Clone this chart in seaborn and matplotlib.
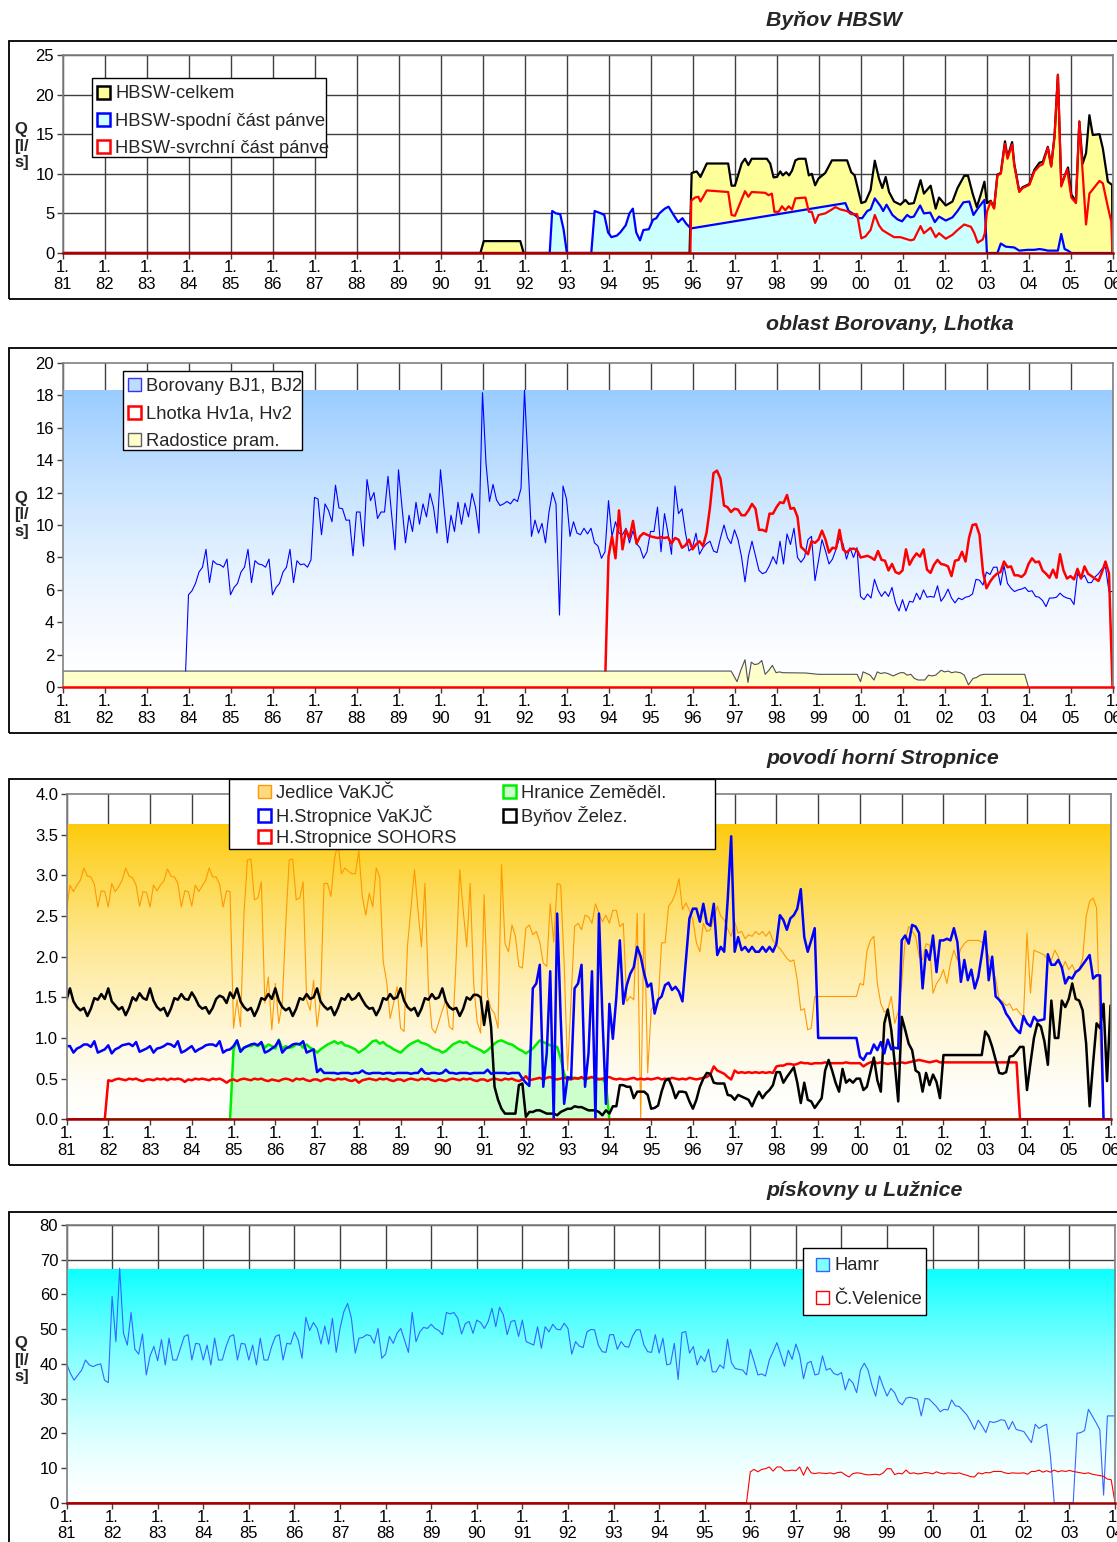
"""
Vydatnost zdrojů (Q v l/s) – čtyři panely: Byňov HBSW, oblast Borovany/Lhotka,
povodí horní Stropnice a pískovny u Lužnice.
"""

from pathlib import Path

import matplotlib

matplotlib.use("Agg")

import matplotlib.colors as mcolors
import matplotlib.pyplot as plt
import numpy as np
import seaborn as sns
from matplotlib.patches import Patch, Rectangle

W, H = 1117, 1542

# ---------------------------------------------------------------- Byňov HBSW
# (rok, Q) – nepravidelné body
HBSW_CELKEM = [
    (1981.0, 0), (1990.95, 0), (1991.03, 1.5), (1991.9, 1.5), (1991.98, 0), (1995.93, 0), (1995.98, 10.1),
    (1996.10, 10.3), (1996.19, 9.6), (1996.34, 11.3), (1996.85, 11.3), (1996.93, 8.5), (1997.01, 8.5),
    (1997.17, 11.3), (1997.25, 11.9), (1997.33, 11.1), (1997.41, 11.9), (1997.77, 11.9), (1997.85, 11.3),
    (1997.93, 9.55), (1998.01, 9.6), (1998.09, 10.3), (1998.15, 9.8), (1998.23, 10.2), (1998.30, 9.8),
    (1998.37, 10.4), (1998.45, 11.7), (1998.53, 11.9), (1998.69, 11.9), (1998.77, 9.8), (1998.84, 10.0),
    (1998.92, 8.55), (1999.00, 9.4), (1999.16, 10.1), (1999.32, 11.7), (1999.68, 11.7), (1999.78, 10.2),
    (1999.86, 9.8), (2000.02, 6.3), (2000.12, 6.5), (2000.24, 7.95), (2000.34, 11.65), (2000.44, 9.4),
    (2000.52, 8.2), (2000.60, 9.6), (2000.68, 7.7), (2000.80, 6.5), (2000.95, 6.1), (2001.07, 6.7),
    (2001.15, 6.2), (2001.27, 6.3), (2001.43, 9.2), (2001.51, 7.5), (2001.67, 8.5), (2001.79, 5.6),
    (2001.87, 7.0), (2002.03, 6.0), (2002.19, 6.5), (2002.31, 8.2), (2002.47, 9.75), (2002.56, 9.75),
    (2002.67, 7.5), (2002.77, 5.8), (2002.87, 7.5), (2002.95, 9.0), (2003.01, 6.3), (2003.10, 6.6),
    (2003.18, 5.7), (2003.26, 9.9), (2003.34, 10.1), (2003.44, 14.1), (2003.50, 12.1), (2003.61, 14.0),
    (2003.66, 11.3), (2003.78, 7.8), (2003.86, 8.3), (2004.02, 8.7), (2004.14, 10.5), (2004.26, 11.4),
    (2004.34, 11.5), (2004.46, 13.4), (2004.54, 11.0), (2004.62, 14.8), (2004.70, 22.5), (2004.78, 8.6),
    (2004.94, 10.8), (2005.02, 7.4), (2005.13, 6.5), (2005.21, 16.6), (2005.29, 11.3), (2005.37, 12.6),
    (2005.45, 17.4), (2005.53, 14.9), (2005.69, 15.0), (2005.77, 13.2), (2005.89, 9.0), (2005.99, 8.6),
    (2006.0, 0),
]
HBSW_SPODNI = [
    (1981.0, 0), (1992.60, 0), (1992.66, 5.3), (1992.75, 5.0), (1992.85, 4.9), (1992.93, 3.0), (1993.01, 0),
    (1993.59, 0), (1993.67, 5.3), (1993.82, 5.0), (1993.90, 4.8), (1993.99, 2.6), (1994.07, 2.0),
    (1994.20, 2.2), (1994.28, 2.6), (1994.41, 3.5), (1994.50, 5.0), (1994.58, 5.6), (1994.66, 2.6),
    (1994.75, 1.6), (1994.83, 2.9), (1994.96, 3.0), (1995.06, 4.2), (1995.14, 4.4), (1995.21, 5.0),
    (1995.34, 5.6), (1995.43, 5.85), (1995.55, 4.8), (1995.66, 3.9), (1995.76, 4.4), (1995.85, 3.7),
    (1995.96, 3.1), (1999.64, 6.3), (1999.72, 5.3), (1999.84, 4.9), (1999.96, 4.4), (2000.04, 4.4),
    (2000.16, 5.3), (2000.24, 5.5), (2000.34, 6.9), (2000.48, 5.9), (2000.54, 5.3), (2000.62, 6.1),
    (2000.76, 4.8), (2000.88, 4.25), (2000.99, 4.0), (2001.11, 4.8), (2001.19, 4.5), (2001.27, 4.6),
    (2001.42, 6.0), (2001.51, 5.0), (2001.66, 5.1), (2001.77, 3.9), (2001.87, 4.6), (2002.03, 4.1),
    (2002.19, 4.5), (2002.31, 5.3), (2002.45, 6.4), (2002.59, 6.5), (2002.69, 4.8), (2002.79, 5.6),
    (2002.95, 6.7), (2003.01, 0), (2003.26, 0), (2003.34, 1.2), (2003.46, 0.8), (2003.66, 0.7),
    (2003.78, 0.3), (2003.98, 0.4), (2004.14, 0.4), (2004.26, 0.5), (2004.38, 0.4), (2004.46, 0.3),
    (2004.70, 0.3), (2004.78, 2.4), (2004.86, 0.5), (2004.94, 0.3), (2005.02, 0), (2006.0, 0),
]
HBSW_SVRCHNI = [
    (1981.0, 0), (1995.95, 0), (1995.97, 6.6), (1996.06, 7.0), (1996.14, 7.1), (1996.19, 6.5), (1996.34, 7.9),
    (1996.85, 7.7), (1996.93, 4.8), (1997.01, 4.7), (1997.25, 7.8), (1997.33, 7.1), (1997.41, 7.7),
    (1997.73, 7.6), (1997.81, 7.3), (1997.89, 7.5), (1997.95, 5.2), (1998.05, 5.2), (1998.13, 5.9),
    (1998.21, 5.4), (1998.29, 5.9), (1998.37, 5.5), (1998.45, 6.9), (1998.69, 7.0), (1998.77, 5.2),
    (1998.84, 5.2), (1998.92, 3.8), (1999.00, 4.8), (1999.16, 5.0), (1999.32, 5.5), (1999.40, 5.8),
    (1999.52, 5.5), (1999.68, 5.3), (1999.78, 4.9), (1999.92, 4.9), (2000.02, 1.85), (2000.12, 2.1),
    (2000.24, 2.9), (2000.34, 4.8), (2000.44, 3.5), (2000.52, 2.9), (2000.64, 2.5), (2000.80, 2.0),
    (2000.95, 2.0), (2001.19, 1.6), (2001.27, 1.7), (2001.43, 3.4), (2001.51, 2.5), (2001.67, 3.2),
    (2001.79, 2.0), (2001.87, 2.5), (2002.03, 1.8), (2002.19, 2.3), (2002.31, 2.9), (2002.47, 3.6),
    (2002.63, 3.3), (2002.71, 2.5), (2002.79, 1.3), (2002.91, 1.7), (2002.96, 2.5), (2003.01, 5.2),
    (2003.10, 6.5), (2003.18, 5.6), (2003.26, 9.8), (2003.34, 10.0), (2003.44, 13.8), (2003.50, 11.9),
    (2003.61, 13.7), (2003.66, 11.1), (2003.78, 7.7), (2003.86, 8.2), (2004.02, 8.6), (2004.14, 10.3),
    (2004.26, 11.0), (2004.34, 11.2), (2004.46, 13.3), (2004.54, 10.9), (2004.62, 14.7), (2004.70, 22.5),
    (2004.78, 8.4), (2004.92, 10.6), (2005.02, 7.0), (2005.13, 6.3), (2005.21, 16.6), (2005.37, 3.6),
    (2005.45, 7.5), (2005.69, 9.1), (2005.77, 8.8), (2005.89, 5.8), (2005.97, 4.0), (2006.0, 0),
]

# ---------------------------------------------------- oblast Borovany, Lhotka
BOROVANY_START = 1983 + 11 / 12  # měsíční hodnoty
BOROVANY_Q = [
    0.0,
    5.70, 5.95, 6.40, 7.10, 7.40, 8.50, 6.45, 7.80, 7.60, 7.55, 7.40, 7.90,
    5.70, 6.15, 6.40, 7.10, 7.40, 8.50, 6.45, 7.80, 7.60, 7.55, 7.40, 7.90,
    5.70, 6.15, 6.40, 7.10, 7.40, 8.50, 6.45, 7.80, 7.55, 7.60, 7.40, 7.85,
    11.70, 11.60, 9.40, 11.30, 10.90, 10.20, 12.45, 11.05, 11.00, 10.30, 10.30, 8.10,
    10.80, 10.80, 8.70, 12.80, 11.50, 12.00, 10.40, 10.80, 10.80, 13.00, 10.70, 8.47,
    13.40, 11.10, 8.90, 10.60, 9.60, 11.40, 10.05, 11.30, 10.50, 11.95, 11.10, 9.50,
    13.40, 11.10, 8.90, 10.60, 9.60, 11.40, 10.05, 11.35, 10.50, 11.95, 11.10, 9.50,
    18.15, 13.80, 11.45, 12.50, 11.55, 11.20, 11.30, 11.45, 11.30, 11.60, 11.45, 12.25,
    18.30, 13.80, 9.30, 10.30, 9.50, 10.10, 8.90, 10.80, 12.00, 11.30, 4.45, 12.40,
    11.60, 9.30, 10.20, 9.50, 9.40, 9.80, 9.45, 9.80, 8.90, 8.70, 7.95, 8.35,
    11.50, 9.30, 10.20, 9.50, 9.40, 9.80, 8.90, 9.65, 8.85, 8.60, 7.95, 8.35,
    9.60, 9.60, 11.10, 8.35, 10.70, 9.50, 8.20, 12.40, 10.70, 11.00, 9.50, 8.40,
    8.60, 9.50, 8.20, 8.60, 8.85, 9.00, 8.40, 8.30, 9.20, 10.00, 9.20, 8.85,
    9.70, 9.10, 8.05, 6.50, 8.10, 9.00, 8.10, 7.20, 7.00, 7.10, 7.50, 8.05,
    7.60, 9.00, 7.60, 9.45, 8.80, 9.80, 8.00, 7.70, 8.00, 9.10, 9.30, 6.57,
    7.80, 9.10, 8.40, 7.60, 7.90, 8.50, 9.20, 8.85, 7.90, 8.60, 8.00, 8.60,
    5.60, 5.40, 5.75, 5.50, 6.65, 6.00, 5.60, 5.90, 5.60, 6.15, 5.20, 4.70,
    5.40, 4.70, 5.30, 5.25, 5.80, 5.40, 6.00, 5.55, 5.60, 5.55, 6.25, 5.30,
    5.60, 6.05, 5.50, 5.20, 5.50, 5.40, 5.55, 5.60, 5.75, 6.65, 6.60, 6.30,
    7.10, 6.95, 7.40, 7.40, 6.30, 7.50, 6.40, 6.10, 5.90, 6.00, 6.05, 6.15,
    5.90, 5.95, 5.60, 5.55, 5.35, 4.97, 5.50, 5.50, 5.55, 5.80, 5.60, 5.50,
    5.45, 5.10, 7.00, 6.70, 6.90, 6.45, 6.45, 6.80, 7.00, 7.30, 7.40, 5.90,
    5.90,
]
LHOTKA_Q = [0.0] * 156 + [
    8.05, 9.30, 7.95, 10.90, 8.50, 9.70, 9.20, 10.25, 8.85, 9.30, 9.50, 9.40,
    9.30, 9.25, 9.20, 9.25, 9.20, 9.25, 8.85, 9.20, 9.10, 8.60, 8.75, 9.10,
    8.50, 8.80, 9.00, 8.70, 9.50, 11.10, 13.20, 13.35, 12.85, 11.20, 11.10, 10.80,
    11.00, 10.95, 10.60, 10.60, 10.90, 11.30, 11.00, 9.70, 9.70, 9.60, 10.70, 10.70,
    11.10, 11.40, 11.35, 11.85, 11.00, 11.05, 10.50, 8.65, 8.45, 8.20, 9.00, 8.90,
    9.10, 9.65, 9.10, 8.30, 8.60, 8.55, 9.70, 8.50, 8.30, 8.50, 8.55, 8.45,
    8.00, 8.05, 8.10, 8.00, 7.85, 8.40, 7.85, 7.80, 7.20, 7.60, 7.10, 7.00,
    7.20, 8.50, 7.55, 7.95, 8.25, 8.05, 8.50, 7.25, 7.05, 7.55, 7.85, 7.60,
    7.55, 7.45, 6.85, 7.80, 7.85, 8.35, 7.75, 9.20, 10.00, 10.05, 9.40, 7.10,
    6.10, 6.50, 6.80, 7.00, 7.10, 7.75, 7.40, 7.45, 6.90, 6.90, 6.80, 7.00,
    7.60, 7.95, 7.70, 7.75, 7.20, 7.00, 6.75, 7.25, 6.75, 8.20, 7.20, 6.70,
    6.85, 6.65, 7.30, 6.70, 7.45, 7.00, 6.85, 6.70, 6.55, 7.10, 7.75, 7.00,
] + [0.0]
RADOSTICE = [
    (1981.0, 1.0), (1996.92, 1.0), (1997.06, 0.35), (1997.15, 1.05), (1997.25, 1.7), (1997.32, 0.3),
    (1997.40, 1.55), (1997.48, 1.4), (1997.57, 1.45), (1997.65, 1.65), (1997.73, 0.8), (1997.82, 1.05),
    (1997.90, 1.35), (1997.99, 0.9), (1998.07, 0.95), (1998.15, 0.9), (1998.70, 0.88), (1998.99, 0.8),
    (1999.92, 0.8), (2000.00, 0.35), (2000.06, 0.95), (2000.15, 0.85), (2000.23, 0.75), (2000.32, 0.45),
    (2000.40, 0.95), (2000.48, 0.85), (2000.57, 0.9), (2000.65, 0.85), (2000.78, 0.7), (2000.86, 0.8),
    (2000.95, 0.9), (2001.03, 0.9), (2001.11, 0.75), (2001.20, 0.8), (2001.28, 0.55), (2001.37, 0.45),
    (2001.53, 0.45), (2001.62, 0.75), (2001.70, 0.7), (2001.79, 0.75), (2001.92, 1.05), (2002.00, 0.95),
    (2002.09, 1.0), (2002.17, 0.9), (2002.26, 0.95), (2002.38, 0.9), (2002.47, 0.75), (2002.57, 0.15),
    (2002.68, 0.55), (2002.76, 0.6), (2002.85, 0.75), (2002.93, 0.8), (2003.00, 0.8), (2003.91, 0.8),
    (2004.00, 0.0),
]

# -------------------------------------------------- povodí horní Stropnice
STROPNICE_START = 1981.0  # měsíční hodnoty 1981–2006
JEDLICE_Q = [
    2.57, 2.88, 2.80, 2.88, 2.94, 3.09, 2.99, 2.98, 2.89, 2.61, 2.81, 2.80,
    2.61, 2.90, 2.80, 2.86, 2.94, 3.09, 2.99, 2.97, 2.88, 2.62, 2.80, 2.79,
    2.61, 2.88, 2.81, 2.88, 2.93, 3.08, 2.99, 2.98, 2.90, 2.61, 2.81, 2.80,
    2.62, 2.88, 2.80, 2.87, 2.94, 3.09, 2.98, 2.98, 2.89, 2.61, 2.81, 2.80,
    1.12, 1.47, 1.14, 2.53, 3.19, 3.20, 2.70, 2.72, 2.92, 1.43, 1.75, 1.10,
    1.67, 1.18, 1.43, 2.40, 3.19, 3.20, 2.70, 2.72, 2.92, 1.47, 1.34, 1.71,
    1.14, 1.47, 2.90, 2.90, 2.74, 3.20, 3.40, 3.02, 3.09, 3.05, 3.02, 3.02,
    3.30, 2.74, 2.51, 2.78, 2.61, 3.09, 2.98, 1.94, 1.69, 1.24, 1.43, 1.63,
    1.12, 1.08, 2.14, 2.61, 3.07, 2.57, 2.12, 2.90, 1.60, 1.12, 1.06, 1.20,
    1.34, 1.47, 1.14, 1.10, 2.00, 3.07, 2.57, 2.12, 2.90, 1.67, 1.20, 1.06,
    2.76, 1.51, 1.36, 1.30, 1.12, 3.13, 2.16, 2.06, 2.39, 2.25, 1.88, 1.86,
    2.35, 2.39, 2.27, 2.31, 2.18, 1.92, 1.88, 2.65, 2.18, 2.90, 2.88, 1.92,
    0.60, 1.49, 2.37, 2.41, 2.33, 2.51, 2.49, 2.41, 2.65, 2.53, 2.43, 2.51,
    2.41, 2.57, 2.57, 2.37, 2.41, 1.45, 1.51, 1.47, 2.53, 0.00, 2.53, 0.57,
    1.34, 1.42, 1.42, 2.17, 2.17, 2.62, 2.68, 2.78, 2.96, 2.58, 2.66, 2.57,
    2.45, 2.17, 2.06, 2.41, 2.31, 2.33, 2.47, 2.62, 2.50, 2.45, 2.34, 2.25,
    2.43, 2.29, 2.31, 2.22, 2.27, 2.25, 2.31, 2.27, 2.31, 2.25, 2.31, 2.20,
    2.14, 2.10, 2.04, 1.98, 1.94, 1.96, 1.71, 1.34, 1.36, 1.10, 1.12, 1.51,
    1.51, 1.51, 1.51, 1.51, 1.51, 1.51, 1.51, 1.51, 1.51, 1.51, 1.51, 1.51,
    1.67, 1.65, 2.06, 2.20, 2.25, 1.67, 1.42, 1.32, 1.34, 1.51, 1.18, 1.32,
    1.67, 2.20, 2.37, 2.31, 2.25, 2.00, 1.96, 2.16, 2.14, 1.55, 1.67, 1.73,
    1.84, 1.67, 1.92, 2.08, 1.96, 2.10, 2.16, 2.20, 2.20, 2.20, 2.20, 2.18,
    2.14, 2.00, 1.84, 1.73, 1.47, 1.45, 1.40, 1.42, 1.34, 1.36, 1.30, 1.26,
    2.29, 1.55, 2.08, 2.06, 2.04, 2.02, 1.96, 1.96, 2.08, 2.00, 1.84, 1.94,
    1.84, 1.90, 1.80, 1.84, 1.98, 2.49, 2.68, 2.72, 2.60, 1.00, 0.00, 0.00,
    0.00,
]
HSTROPNICE_VAK_Q = [
    0.90, 0.90, 0.82, 0.87, 0.89, 0.92, 0.92, 0.89, 0.96, 0.82, 0.84, 0.86,
    0.91, 0.81, 0.86, 0.88, 0.91, 0.92, 0.93, 0.90, 0.95, 0.83, 0.85, 0.87,
    0.90, 0.82, 0.87, 0.88, 0.90, 0.93, 0.92, 0.89, 0.96, 0.82, 0.84, 0.87,
    0.90, 0.83, 0.86, 0.88, 0.91, 0.92, 0.92, 0.90, 0.96, 0.82, 0.85, 0.86,
    0.90, 0.97, 0.83, 0.88, 0.90, 0.92, 0.93, 0.91, 0.95, 0.82, 0.84, 0.87,
    0.90, 0.97, 0.82, 0.87, 0.89, 0.92, 0.93, 0.92, 0.96, 0.82, 0.84, 0.86,
    0.58, 0.62, 0.57, 0.57, 0.57, 0.57, 0.56, 0.57, 0.57, 0.57, 0.56, 0.57,
    0.57, 0.60, 0.57, 0.56, 0.57, 0.57, 0.57, 0.56, 0.57, 0.57, 0.56, 0.57,
    0.57, 0.57, 0.57, 0.56, 0.57, 0.57, 0.62, 0.57, 0.56, 0.57, 0.57, 0.56,
    0.57, 0.61, 0.57, 0.57, 0.56, 0.57, 0.57, 0.57, 0.56, 0.57, 0.57, 0.57,
    0.57, 0.61, 0.56, 0.57, 0.57, 0.57, 0.57, 0.56, 0.57, 0.57, 0.57, 0.50,
    0.45, 0.41, 1.61, 1.67, 1.90, 0.40, 0.81, 1.82, 0.00, 2.53, 1.26, 0.19,
    0.52, 0.50, 1.61, 1.67, 1.90, 0.40, 0.81, 1.82, 0.00, 2.53, 1.26, 0.19,
    1.42, 0.99, 1.50, 2.20, 1.42, 1.65, 1.79, 1.87, 2.12, 2.00, 1.79, 1.63,
    1.67, 1.30, 1.47, 1.51, 1.65, 1.68, 1.59, 1.63, 1.57, 1.45, 1.96, 2.47,
    2.59, 2.59, 2.43, 2.65, 2.41, 2.38, 2.65, 2.02, 2.12, 2.06, 2.70, 3.48,
    2.06, 2.24, 2.08, 2.12, 2.06, 2.12, 2.06, 2.06, 2.12, 2.06, 2.12, 2.06,
    2.16, 2.51, 2.45, 2.33, 2.47, 2.51, 2.59, 2.83, 2.24, 2.06, 2.20, 2.35,
    1.00, 1.00, 1.00, 1.00, 1.00, 1.00, 1.00, 1.00, 1.00, 1.00, 1.00, 1.00,
    0.77, 0.73, 0.81, 0.81, 0.92, 0.85, 0.95, 0.81, 0.98, 0.86, 0.88, 0.87,
    2.20, 2.26, 2.16, 2.39, 2.37, 2.29, 1.61, 2.08, 1.96, 2.26, 1.81, 2.20,
    2.20, 2.22, 2.20, 2.35, 2.18, 1.69, 1.96, 1.71, 1.84, 1.61, 1.75, 2.02,
    2.31, 1.71, 2.00, 1.51, 1.47, 1.41, 1.30, 1.24, 1.16, 1.10, 1.06, 1.27,
    1.18, 1.14, 1.26, 1.21, 1.22, 1.23, 2.03, 1.90, 1.90, 1.96, 1.87, 1.67,
    1.75, 1.73, 1.81, 1.84, 1.90, 1.96, 2.02, 1.73, 1.77, 1.77, 0.00, 0.00,
    0.00,
]
SOHORS_Q = [0.0] * 12 + [
    0.48, 0.47, 0.49, 0.50, 0.49, 0.48, 0.50, 0.49, 0.50, 0.48, 0.47, 0.49,
    0.49, 0.48, 0.50, 0.49, 0.50, 0.48, 0.50, 0.49, 0.50, 0.49, 0.46, 0.49,
    0.48, 0.50, 0.49, 0.50, 0.49, 0.48, 0.50, 0.49, 0.50, 0.48, 0.45, 0.48,
    0.49, 0.47, 0.49, 0.50, 0.49, 0.48, 0.50, 0.49, 0.50, 0.48, 0.47, 0.49,
    0.48, 0.47, 0.49, 0.50, 0.49, 0.47, 0.50, 0.49, 0.50, 0.48, 0.47, 0.49,
    0.49, 0.47, 0.49, 0.50, 0.49, 0.48, 0.50, 0.49, 0.50, 0.48, 0.47, 0.49,
    0.45, 0.48, 0.49, 0.50, 0.49, 0.48, 0.50, 0.49, 0.50, 0.48, 0.47, 0.49,
    0.49, 0.47, 0.49, 0.50, 0.49, 0.48, 0.50, 0.49, 0.50, 0.48, 0.47, 0.49,
    0.48, 0.47, 0.49, 0.50, 0.49, 0.48, 0.50, 0.49, 0.50, 0.48, 0.47, 0.49,
    0.49, 0.47, 0.49, 0.50, 0.49, 0.48, 0.50, 0.49, 0.50, 0.48, 0.47, 0.49,
    0.53, 0.48, 0.49, 0.50, 0.51, 0.49, 0.51, 0.52, 0.50, 0.49, 0.50, 0.51,
    0.50, 0.49, 0.51, 0.50, 0.52, 0.49, 0.51, 0.52, 0.50, 0.49, 0.50, 0.51,
    0.52, 0.50, 0.49, 0.50, 0.49, 0.49, 0.50, 0.51, 0.49, 0.50, 0.49, 0.50,
    0.49, 0.50, 0.51, 0.49, 0.50, 0.49, 0.51, 0.50, 0.49, 0.50, 0.49, 0.51,
    0.50, 0.49, 0.50, 0.51, 0.52, 0.55, 0.65, 0.60, 0.58, 0.56, 0.52, 0.49,
    0.60, 0.57, 0.58, 0.57, 0.58, 0.57, 0.58, 0.57, 0.58, 0.57, 0.58, 0.57,
    0.65, 0.66, 0.66, 0.68, 0.68, 0.67, 0.68, 0.70, 0.69, 0.69, 0.68, 0.69,
    0.69, 0.69, 0.70, 0.69, 0.69, 0.69, 0.69, 0.69, 0.70, 0.69, 0.69, 0.69,
    0.69, 0.65, 0.68, 0.70, 0.71, 0.69, 0.70, 0.69, 0.68, 0.69, 0.68, 0.69,
    0.70, 0.69, 0.70, 0.71, 0.72, 0.73, 0.72, 0.71, 0.70, 0.71, 0.72, 0.70,
    0.70, 0.70, 0.70, 0.70, 0.70, 0.70, 0.70, 0.70, 0.70, 0.70, 0.70, 0.70,
    0.70, 0.70, 0.70, 0.70, 0.70, 0.70, 0.70, 0.70, 0.70, 0.70, 0.00, 0.00,
] + [0.0] * 25
HRANICE_Q = [0.0] * 48 + [
    0.86, 0.97, 0.84, 0.88, 0.90, 0.90, 0.92, 0.90, 0.94, 0.88, 0.92, 0.90,
    0.87, 0.98, 0.87, 0.90, 0.88, 0.89, 0.92, 0.93, 0.88, 0.92, 0.88, 0.86,
    0.82, 0.86, 0.89, 0.92, 0.94, 0.96, 0.93, 0.95, 0.91, 0.90, 0.88, 0.86,
    0.82, 0.85, 0.88, 0.92, 0.96, 0.97, 0.93, 0.95, 0.91, 0.89, 0.86, 0.84,
    0.82, 0.86, 0.90, 0.93, 0.95, 0.97, 0.94, 0.93, 0.91, 0.88, 0.86, 0.85,
    0.82, 0.84, 0.88, 0.92, 0.94, 0.96, 0.94, 0.95, 0.91, 0.89, 0.87, 0.85,
    0.82, 0.85, 0.89, 0.93, 0.96, 0.97, 0.95, 0.93, 0.92, 0.89, 0.86, 0.84,
    0.81, 0.84, 0.87, 0.92, 0.97, 0.95, 0.93, 0.91, 0.90, 0.89, 0.75, 0.56,
    0.48, 0.52, 0.50, 0.50, 0.51, 0.50, 0.50, 0.52, 0.50, 0.50, 0.49, 0.45,
] + [0.0] * 145
BYNOV_ZEL_Q = [
    1.47, 1.61, 1.45, 1.38, 1.34, 1.37, 1.27, 1.36, 1.49, 1.47, 1.54, 1.48,
    1.61, 1.45, 1.40, 1.35, 1.38, 1.28, 1.37, 1.50, 1.46, 1.55, 1.49, 1.47,
    1.61, 1.46, 1.38, 1.34, 1.37, 1.27, 1.36, 1.49, 1.47, 1.54, 1.48, 1.47,
    1.56, 1.49, 1.40, 1.36, 1.38, 1.30, 1.37, 1.48, 1.52, 1.50, 1.43, 1.56,
    1.49, 1.61, 1.45, 1.38, 1.34, 1.37, 1.27, 1.36, 1.49, 1.47, 1.54, 1.48,
    1.61, 1.46, 1.38, 1.34, 1.37, 1.27, 1.36, 1.49, 1.47, 1.54, 1.48, 1.50,
    1.61, 1.45, 1.39, 1.35, 1.38, 1.28, 1.37, 1.49, 1.47, 1.54, 1.47, 1.49,
    1.55, 1.47, 1.40, 1.36, 1.37, 1.28, 1.36, 1.49, 1.47, 1.54, 1.48, 1.50,
    1.61, 1.46, 1.38, 1.34, 1.37, 1.27, 1.36, 1.49, 1.47, 1.54, 1.48, 1.50,
    1.61, 1.45, 1.38, 1.35, 1.37, 1.27, 1.36, 1.50, 1.47, 1.53, 1.53, 1.50,
    1.16, 1.45, 1.14, 0.40, 0.24, 0.13, 0.07, 0.07, 0.07, 0.07, 0.42, 0.44,
    0.03, 0.09, 0.09, 0.11, 0.11, 0.09, 0.07, 0.07, 0.07, 0.05, 0.09, 0.11,
    0.13, 0.13, 0.16, 0.15, 0.15, 0.13, 0.11, 0.11, 0.11, 0.09, 0.05, 0.11,
    0.07, 0.16, 0.16, 0.42, 0.42, 0.40, 0.40, 0.26, 0.34, 0.34, 0.34, 0.30,
    0.13, 0.14, 0.17, 0.34, 0.47, 0.50, 0.40, 0.26, 0.34, 0.34, 0.33, 0.22,
    0.13, 0.24, 0.40, 0.50, 0.57, 0.56, 0.45, 0.44, 0.44, 0.44, 0.30, 0.29,
    0.24, 0.30, 0.28, 0.26, 0.24, 0.16, 0.26, 0.34, 0.26, 0.32, 0.36, 0.42,
    0.58, 0.58, 0.45, 0.52, 0.58, 0.64, 0.45, 0.20, 0.45, 0.24, 0.22, 0.14,
    0.20, 0.26, 0.60, 0.73, 0.60, 0.45, 0.34, 0.62, 0.45, 0.49, 0.45, 0.50,
    0.50, 0.36, 0.40, 0.58, 0.76, 0.48, 0.34, 1.18, 1.35, 1.10, 0.69, 0.22,
    1.26, 1.10, 0.93, 0.85, 0.60, 0.57, 0.34, 0.57, 0.42, 0.55, 0.46, 0.26,
    0.79, 0.79, 0.79, 0.79, 0.79, 0.79, 0.79, 0.79, 0.79, 0.79, 0.79, 0.79,
    1.08, 1.02, 0.89, 0.73, 0.57, 0.56, 0.58, 0.77, 0.78, 0.83, 0.89, 0.89,
    0.36, 0.69, 1.00, 1.18, 1.14, 0.96, 0.67, 1.46, 1.00, 1.00, 1.46, 1.38,
    1.48, 1.67, 1.48, 1.46, 1.34, 0.93, 0.16, 0.69, 1.18, 1.12, 1.42, 0.47,
    1.40,
]

# ------------------------------------------------------ pískovny u Lužnice
LUZNICE_START = 1981.0  # měsíční hodnoty 1981–2004
HAMR_Q = [
    40.1, 37.3, 35.3, 36.8, 38.2, 41.1, 39.7, 39.2, 39.7, 40.0, 35.3, 34.6,
    59.4, 46.4, 67.6, 48.8, 45.4, 54.8, 44.2, 42.8, 48.6, 36.8, 42.3, 45.0,
    40.9, 47.0, 39.7, 47.4, 41.1, 41.1, 44.5, 47.9, 48.4, 41.1, 45.9, 45.7,
    41.1, 45.4, 39.7, 47.4, 41.1, 41.1, 45.0, 47.9, 48.4, 41.1, 45.9, 45.7,
    41.1, 45.4, 39.7, 47.4, 41.1, 41.1, 45.0, 47.9, 48.4, 41.1, 45.9, 45.7,
    49.2, 46.8, 41.6, 53.4, 49.6, 51.9, 50.2, 45.7, 50.9, 45.7, 53.1, 43.3,
    50.2, 55.0, 57.4, 53.1, 43.1, 47.4, 47.6, 48.4, 48.1, 45.9, 50.2, 41.6,
    42.8, 47.9, 45.9, 48.8, 50.2, 46.8, 43.3, 54.8, 46.4, 49.2, 50.5, 50.2,
    51.4, 50.2, 49.6, 48.4, 54.8, 54.4, 54.8, 53.1, 48.6, 51.6, 52.2, 48.8,
    52.6, 51.9, 50.2, 52.2, 56.0, 50.7, 56.3, 54.1, 48.4, 52.2, 52.5, 47.9,
    52.6, 46.4, 45.9, 45.4, 50.7, 44.5, 50.7, 49.2, 51.4, 50.0, 49.8, 51.7,
    50.2, 42.8, 46.4, 45.1, 44.7, 49.2, 49.9, 49.8, 45.4, 43.5, 43.3, 48.4,
    48.4, 44.2, 46.4, 45.0, 44.8, 48.0, 49.8, 49.8, 45.4, 43.5, 43.3, 48.4,
    43.1, 47.4, 39.7, 40.0, 45.9, 35.5, 49.0, 49.3, 43.1, 45.0, 39.7, 42.3,
    40.7, 44.2, 37.7, 37.7, 39.7, 38.7, 47.1, 40.4, 38.7, 38.4, 38.2, 36.8,
    44.2, 40.7, 36.8, 37.1, 36.5, 41.1, 43.5, 46.1, 42.8, 39.3, 43.9, 41.3,
    45.7, 42.5, 35.7, 40.2, 40.7, 36.8, 37.1, 42.3, 38.2, 38.7, 37.2, 36.8,
    37.5, 32.5, 35.7, 34.5, 31.7, 38.2, 40.2, 38.2, 33.9, 30.7, 36.5, 33.4,
    30.7, 32.9, 31.7, 29.1, 28.2, 30.1, 30.4, 30.1, 29.8, 25.0, 30.0, 29.9,
    28.8, 27.7, 26.2, 26.9, 26.7, 29.6, 27.9, 27.7, 26.5, 25.3, 23.4, 21.1,
    23.8, 22.1, 20.2, 23.4, 23.1, 23.4, 23.9, 23.7, 21.1, 23.4, 21.1, 20.8,
    20.5, 18.9, 17.3, 22.6, 21.4, 22.1, 22.6, 13.5, 0.0, 0.0, 0.0, 0.0,
    0.0, 0.0, 20.0, 20.2, 20.8, 26.9, 25.0, 23.1, 21.0, 2.2, 25.0, 25.0,
    25.0,
]
VELENICE_Q = [0.0] * 180 + [
    8.9, 9.6, 8.9, 9.6, 9.8, 10.3, 9.1, 10.3, 10.3, 9.2, 9.2, 9.4,
    9.2, 10.3, 7.9, 10.3, 8.6, 8.4, 8.6, 8.5, 8.4, 8.6, 8.3, 8.7,
    8.8, 8.0, 7.4, 8.4, 8.6, 8.5, 8.2, 8.0, 8.1, 8.2, 8.0, 8.6,
    9.8, 9.8, 8.1, 8.5, 8.3, 9.4, 8.4, 8.6, 8.3, 8.4, 8.7, 8.6,
    8.3, 8.9, 8.5, 8.3, 8.6, 8.5, 8.4, 8.6, 8.2, 7.9, 7.5, 7.4,
    8.6, 8.3, 8.7, 8.6, 9.0, 9.0, 9.0, 8.6, 8.4, 8.6, 8.5, 8.5,
    8.6, 8.2, 9.0, 9.0, 9.4, 8.8, 9.2, 8.8, 9.4, 8.9, 9.2, 9.0,
    9.3, 9.0, 8.8, 8.6, 8.4, 8.6, 8.2, 8.0, 7.8, 7.6, 6.8, 6.6,
] + [0.0]

YEARS_FULL = list(range(1981, 2007))
YEARS_LUZNICE = list(range(1981, 2005))

sns.set_theme(style="white")
plt.rcParams["font.family"] = ["Liberation Sans", "DejaVu Sans"]

GRID_COLOR = "#404040"
FONT = 12
LEGEND_FONT = 13.2


def fig_box(left, top, right, bottom):
    """Pixelový obdélník -> souřadnice figury."""
    return [left / W, 1 - bottom / H, (right - left) / W, (bottom - top) / H]


def monthly(start, values):
    return start + np.arange(len(values)) / 12.0


def split(pairs):
    t, q = zip(*pairs)
    return np.array(t), np.array(q)


def draw_line(ax, t, q, color, lw, z):
    sns.lineplot(x=np.asarray(t), y=np.asarray(q), ax=ax, color=color, linewidth=lw,
                 estimator=None, sort=False, zorder=z)


def add_gradient(ax, x0, x1, top, color):
    frac = np.linspace(0.0, 1.0, 256) ** 1.5
    c = np.array(mcolors.to_rgb(color))
    img = 1.0 + (c - 1.0) * frac[:, None]
    ax.imshow(img[:, None, :], extent=[x0, x1, 0, top], origin="lower", aspect="auto",
              interpolation="bilinear", zorder=1)


def style_axes(ax, years, ylim, yticks, yfmt, hgrid, bottom_color):
    ax.set_xlim(years[0], years[-1])
    ax.set_ylim(*ylim)
    ax.set_xticks(years)
    ax.set_xticklabels([f"1.\n{y % 100:02d}" for y in years], fontsize=FONT, linespacing=1.15)
    ax.set_yticks(yticks)
    ax.set_yticklabels([yfmt.format(v) for v in yticks], fontsize=FONT)
    ax.set_xlabel("")
    ax.set_ylabel("")
    ax.set_axisbelow(True)
    ax.grid(True, axis="x", color=GRID_COLOR, linewidth=1)
    if hgrid:
        ax.grid(True, axis="y", color=GRID_COLOR, linewidth=1)
    else:
        ax.grid(False, axis="y")
    ax.tick_params(axis="both", which="major", bottom=True, left=True, direction="out",
                   length=4, width=1, color=GRID_COLOR, labelcolor="black")
    ax.tick_params(axis="x", pad=1)
    ax.tick_params(axis="y", pad=2)
    for side in ("left", "top", "right"):
        ax.spines[side].set_color("#808080")
        ax.spines[side].set_linewidth(1.2)
        ax.spines[side].set_zorder(4)
    ax.spines["bottom"].set_color(bottom_color)
    ax.spines["bottom"].set_linewidth(1.8)
    ax.spines["bottom"].set_zorder(4)


def add_frame(fig, top, bottom):
    fig.add_artist(Rectangle((9.5 / W, 1 - bottom / H), (1130 - 9.5) / W, (bottom - top) / H,
                             transform=fig.transFigure, fill=False, edgecolor="black",
                             linewidth=1.3, zorder=3))


def add_title(fig, text, y):
    fig.text(766 / W, 1 - y / H, text, ha="left", va="center", fontsize=15.3,
             fontweight="bold", fontstyle="italic", zorder=3)


def add_qlabel(fig, y):
    fig.text(14 / W, 1 - y / H, "Q\n[l/\ns]", ha="left", va="center", fontsize=FONT,
             fontweight="bold", linespacing=1.15, zorder=3)


def add_legend(fig, handles, labels, box, anchor, spacing, ncol=1, colspace=2.0):
    left, top, right, bottom = box
    fig.add_artist(Rectangle((left / W, 1 - bottom / H), (right - left) / W, (bottom - top) / H,
                             transform=fig.transFigure, facecolor="white", edgecolor="black",
                             linewidth=1.0, zorder=4))
    fig.legend(handles, labels, loc="upper left", bbox_to_anchor=(anchor[0] / W, 1 - anchor[1] / H),
               bbox_transform=fig.transFigure, frameon=False, fontsize=LEGEND_FONT, ncol=ncol,
               handlelength=0.7, handleheight=0.7, handletextpad=0.3, borderpad=0,
               borderaxespad=0, labelspacing=spacing, columnspacing=colspace)


def plot_hbsw(fig):
    ax = fig.add_axes(fig_box(62.5, 55, 1112.5, 253))
    ct, cq = split(HBSW_CELKEM)
    st, sq = split(HBSW_SPODNI)
    vt, vq = split(HBSW_SVRCHNI)
    ax.fill_between(ct, 0, cq, color="#FFFF99", linewidth=0, zorder=1.5)
    ax.fill_between(st, 0, sq, color="#CCFFFF", linewidth=0, zorder=1.6)
    draw_line(ax, ct, cq, "black", 1.6, 3)
    draw_line(ax, st, sq, "#0000FF", 1.6, 3.1)
    draw_line(ax, vt, vq, "#FF0000", 1.6, 3.2)
    style_axes(ax, YEARS_FULL, (0, 25), list(range(0, 26, 5)), "{:d}", True, "#A00000")
    add_frame(fig, 40.5, 298.5)
    add_title(fig, "Byňov HBSW", 20)
    add_qlabel(fig, 146)
    handles = [Patch(facecolor="#FFFF99", edgecolor="black", linewidth=1.8),
               Patch(facecolor="#CCFFFF", edgecolor="#0000FF", linewidth=1.8),
               Patch(facecolor="white", edgecolor="#FF0000", linewidth=1.8)]
    labels = ["HBSW-celkem", "HBSW-spodní část pánve", "HBSW-svrchní část pánve"]
    add_legend(fig, handles, labels, (92, 78, 326, 157), (97, 85.5), 0.55)


def plot_borovany(fig):
    ax = fig.add_axes(fig_box(62.5, 362.7, 1112.5, 687.3))
    add_gradient(ax, 1981, 2006, 18.25, "#99CCFF")
    draw_line(ax, monthly(BOROVANY_START, BOROVANY_Q), BOROVANY_Q, "#0000FF", 0.8, 3)
    draw_line(ax, monthly(1981.0, LHOTKA_Q), LHOTKA_Q, "#FF0000", 1.8, 3.1)
    rt, rq = split(RADOSTICE)
    ax.fill_between(rt, 0, rq, color="#FFFFCC", linewidth=0, zorder=3.5)
    draw_line(ax, rt, rq, "#505050", 0.8, 3.6)
    style_axes(ax, YEARS_FULL, (0, 20), list(range(0, 21, 2)), "{:d}", False, "#FF0000")
    add_frame(fig, 347.5, 732.5)
    add_title(fig, "oblast Borovany, Lhotka", 325)
    add_qlabel(fig, 515)
    handles = [Patch(facecolor="#BFDCFF", edgecolor="#3333FF", linewidth=1.0),
               Patch(facecolor="white", edgecolor="#FF0000", linewidth=1.8),
               Patch(facecolor="#FFFFCC", edgecolor="#606060", linewidth=1.0)]
    labels = ["Borovany BJ1, BJ2", "Lhotka Hv1a, Hv2", "Radostice pram."]
    add_legend(fig, handles, labels, (123, 371, 302, 450), (128, 378), 0.58)


def plot_stropnice(fig):
    ax = fig.add_axes(fig_box(66.5, 794, 1110.5, 1119.3))
    t = monthly(STROPNICE_START, JEDLICE_Q)
    add_gradient(ax, 1981, 2006, 3.62, "#FDCB0C")
    ax.fill_between(t, 0, HRANICE_Q, color="#CCFFCC", linewidth=0, zorder=1.5)
    draw_line(ax, t, JEDLICE_Q, "#FF9900", 0.8, 3)
    draw_line(ax, t, HRANICE_Q, "#00EE00", 1.8, 3.1)
    draw_line(ax, t, SOHORS_Q, "#FF0000", 1.8, 3.2)
    draw_line(ax, t, BYNOV_ZEL_Q, "black", 1.8, 3.3)
    draw_line(ax, t, HSTROPNICE_VAK_Q, "#0000FF", 1.8, 3.4)
    yt = [0.5 * k for k in range(9)]
    style_axes(ax, YEARS_FULL, (0, 4), yt, "{:.1f}", False, "#A00000")
    add_frame(fig, 779, 1165)
    add_title(fig, "povodí horní Stropnice", 758)
    handles = [Patch(facecolor="#FDDA80", edgecolor="#FF9900", linewidth=1.0),
               Patch(facecolor="white", edgecolor="#0000FF", linewidth=1.8),
               Patch(facecolor="white", edgecolor="#FF0000", linewidth=1.8),
               Patch(facecolor="#CCFFCC", edgecolor="#00EE00", linewidth=1.8),
               Patch(facecolor="white", edgecolor="black", linewidth=1.8)]
    labels = ["Jedlice VaKJČ", "H.Stropnice VaKJČ", "H.Stropnice SOHORS",
              "Hranice Zeměděl.", "Byňov Želez."]
    add_legend(fig, handles, labels, (229, 779, 715, 849), (258, 784.5), 0.22, ncol=2, colspace=2.5)


def plot_luznice(fig):
    ax = fig.add_axes(fig_box(66.5, 1225, 1115, 1502.7))
    t = monthly(LUZNICE_START, HAMR_Q)
    add_gradient(ax, 1981, 2004, 67.3, "#0CFFFF")
    draw_line(ax, t, HAMR_Q, "#3366FF", 0.8, 3)
    draw_line(ax, t, VELENICE_Q, "#FF0000", 0.8, 3.1)
    style_axes(ax, YEARS_LUZNICE, (0, 80), list(range(0, 81, 10)), "{:d}", True, "#A00000")
    add_frame(fig, 1211.5, 1600)
    add_title(fig, "pískovny u Lužnice", 1191)
    add_qlabel(fig, 1360)
    handles = [Patch(facecolor="#80FFFF", edgecolor="#3366FF", linewidth=1.0),
               Patch(facecolor="white", edgecolor="#FF0000", linewidth=1.0)]
    labels = ["Hamr", "Č.Velenice"]
    add_legend(fig, handles, labels, (803, 1248, 926, 1315), (816, 1257.5), 0.9)


def main(output_path="out.png"):
    fig = plt.figure(figsize=(W / 100, H / 100), dpi=100)
    fig.patch.set_facecolor("white")
    plot_hbsw(fig)
    plot_borovany(fig)
    plot_stropnice(fig)
    plot_luznice(fig)
    save_path = Path(output_path)
    fig.savefig(save_path, dpi=100, facecolor="white")
    plt.close(fig)
    return str(save_path)


if __name__ == "__main__":
    main()
